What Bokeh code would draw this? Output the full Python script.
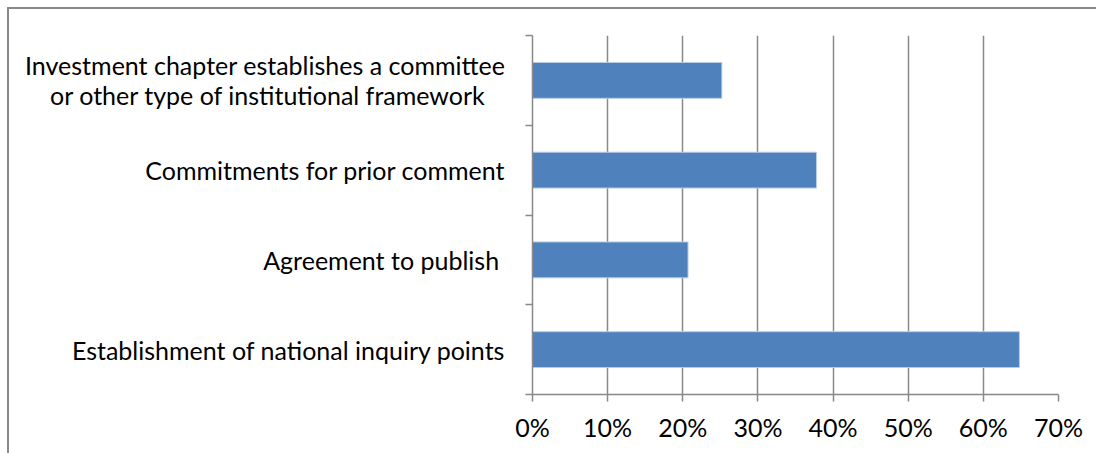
from bokeh.plotting import figure
from bokeh.models import Range1d, FixedTicker, NumeralTickFormatter
from bokeh.embed import file_html
from bokeh.resources import INLINE

# Data (bottom to top as drawn)
categories = [
    "Establishment of national inquiry points",
    "Agreement to publish ",
    "Commitments for prior comment",
    "Investment chapter establishes a committee\nor other type of institutional framework   ",
]
values = [0.648, 0.207, 0.378, 0.252]
x_ticks = [0.0, 0.1, 0.2, 0.3, 0.4, 0.5, 0.6, 0.7]

FONT = "Lato"
GRAY = "#898989"

positions = [i + 0.5 for i in range(len(categories))]
boundaries = [float(i) for i in range(len(categories) + 1)]

p = figure(width=1089, height=446, output_backend="svg", toolbar_location=None,
           x_range=Range1d(0, 0.7), y_range=Range1d(0, len(categories)),
           min_border_left=523, min_border_right=40, min_border_top=26, min_border_bottom=61)
p.styles = {"border-top": f"2px solid {GRAY}", "border-left": f"2px solid {GRAY}",
            "box-sizing": "border-box", "margin-left": "7px", "margin-top": "7px"}
p.outline_line_color = None
p.background_fill_color = "white"
p.border_fill_color = "white"

p.hbar(y=positions, right=values, left=0, height=0.4,
       fill_color="#4F81BD", line_color="#B9CDE5", line_width=1)

# x axis
p.xaxis.ticker = FixedTicker(ticks=x_ticks)
p.xaxis.formatter = NumeralTickFormatter(format="0%")
p.xaxis.axis_line_color = GRAY
p.xaxis.axis_line_width = 1.5
p.xaxis.major_tick_line_color = GRAY
p.xaxis.major_tick_line_width = 1.5
p.xaxis.major_tick_out = 7
p.xaxis.major_tick_in = 0
p.xaxis.minor_tick_line_color = None
p.xaxis.major_label_text_font = FONT
p.xaxis.major_label_text_font_size = "25px"
p.xaxis.major_label_text_color = "#000000"
p.xaxis.major_label_standoff = 10

# y axis
p.yaxis.ticker = FixedTicker(ticks=positions, minor_ticks=boundaries)
p.yaxis.major_label_overrides = {pos: c for pos, c in zip(positions, categories)}
p.yaxis.axis_line_color = GRAY
p.yaxis.axis_line_width = 1.5
p.yaxis.major_tick_line_color = None
p.yaxis.major_tick_out = 0
p.yaxis.major_tick_in = 0
p.yaxis.minor_tick_line_color = GRAY
p.yaxis.minor_tick_line_width = 1.5
p.yaxis.minor_tick_out = 7
p.yaxis.minor_tick_in = 0
p.yaxis.major_label_text_font = FONT
p.yaxis.major_label_text_font_size = "25px"
p.yaxis.major_label_text_line_height = 1.0
p.yaxis.major_label_text_color = "#000000"
p.yaxis.major_label_standoff = 20

p.xgrid.grid_line_color = GRAY
p.xgrid.grid_line_width = 1.5
p.ygrid.grid_line_color = None

open("out.html", "w").write(file_html(p, INLINE))
